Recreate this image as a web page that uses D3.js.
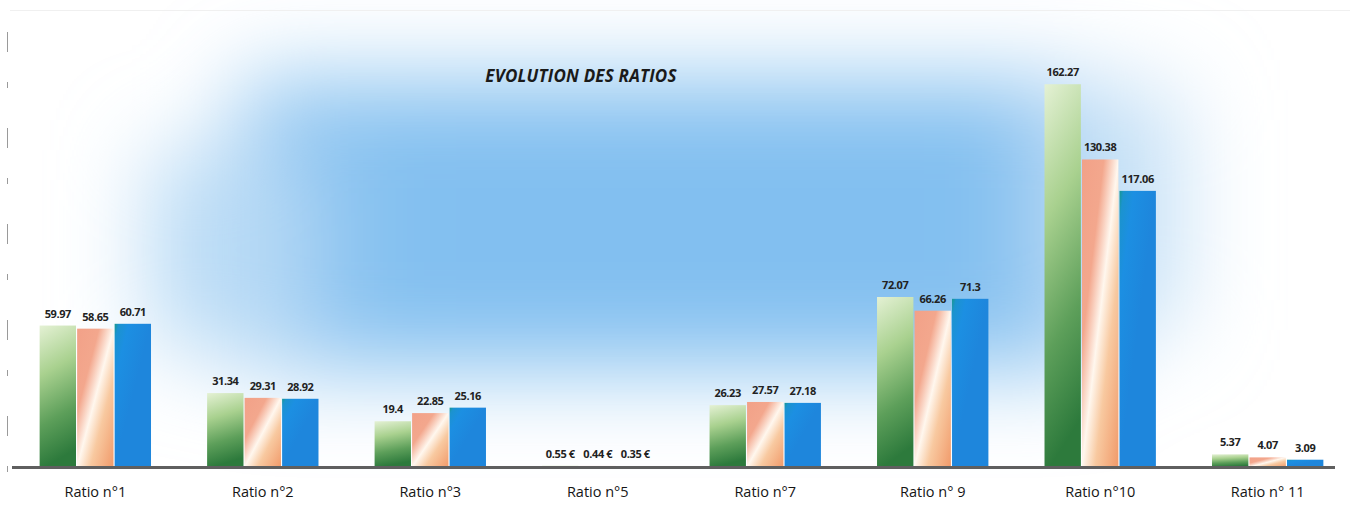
<!DOCTYPE html>
<html>
<head>
<meta charset="utf-8">
<script src="https://cdnjs.cloudflare.com/ajax/libs/d3/7.8.5/d3.min.js"></script>
<style>
  html, body { margin: 0; padding: 0; background: #fff; }
  svg { display: block; }
</style>
</head>
<body>
<svg id="chart" width="1364" height="508"></svg>
<script>
// ---- data ----
const categories = ["Ratio n°1", "Ratio n°2", "Ratio n°3", "Ratio n°5", "Ratio n°7", "Ratio n° 9", "Ratio n°10", "Ratio n° 11"];
const seriesNames = ["Série 1", "Série 2", "Série 3"];
const series1 = [59.97, 31.34, 19.4, 0.55, 26.23, 72.07, 162.27, 5.37];
const series2 = [58.65, 29.31, 22.85, 0.44, 27.57, 66.26, 130.38, 4.07];
const series3 = [60.71, 28.92, 25.16, 0.35, 27.18, 71.3, 117.06, 3.09];
const unitSuffix = ["", "", "", " €", "", "", "", ""];
const title = "EVOLUTION DES RATIOS";

const W = 1364, H = 508;
const baseY = 467;
const svg = d3.select("#chart");
const defs = svg.append("defs");

// background blur
const blur = defs.append("filter").attr("id", "bgblur")
  .attr("x", "-50%").attr("y", "-50%").attr("width", "200%").attr("height", "200%");
blur.append("feGaussianBlur").attr("stdDeviation", 45);

const bg = svg.append("g").attr("filter", "url(#bgblur)");
bg.append("rect").attr("x", 240).attr("y", 80).attr("width", 860).attr("height", 290).attr("fill", "#88c2f0");
bg.append("rect").attr("x", 400).attr("y", 120).attr("width", 580).attr("height", 210).attr("fill", "#82bff0");
bg.append("rect").attr("x", 150).attr("y", 150).attr("width", 160).attr("height", 200).attr("fill", "#b8daf5");
bg.append("rect").attr("x", 1050).attr("y", 90).attr("width", 130).attr("height", 240).attr("fill", "#c4e0f6");

// scanner artefacts: left edge line
svg.append("line").attr("x1", 7.5).attr("x2", 7.5).attr("y1", 32).attr("y2", 490)
  .attr("stroke", "#9a9a9a").attr("stroke-width", 1).attr("stroke-dasharray", "20 30 6 40");
svg.append("line").attr("x1", 10).attr("x2", 1350).attr("y1", 10.5).attr("y2", 10.5)
  .attr("stroke", "#f0f0f0").attr("stroke-width", 1);

// gradients
function lg(id, x1, y1, x2, y2, stops) {
  const g = defs.append("linearGradient").attr("id", id)
    .attr("x1", x1).attr("y1", y1).attr("x2", x2).attr("y2", y2);
  stops.forEach(s => g.append("stop").attr("offset", s[0]).attr("stop-color", s[1]));
}
lg("gGreen", 0, 0, 0.15, 1, [[0, "#e4f1d4"], [0.35, "#a9d18f"], [0.7, "#5d9f5a"], [1, "#2d7a3c"]]);
lg("gOrange", 0, 0, 1, 1, [[0, "#f2a188"], [0.3, "#f3a78d"], [0.5, "#fff7ee"], [0.68, "#f8c9a0"], [1, "#f19a6a"]]);
lg("gBlue", 0, 0, 0.5, 0.5, [[0, "#17988f"], [0.12, "#1b93cf"], [0.4, "#1c8fe2"], [1, "#1e86dc"]]);
const fills = ["url(#gGreen)", "url(#gOrange)", "url(#gBlue)"];

// scales
const x0 = d3.scaleBand().domain(categories).range([12, 1351]).paddingInner(0.335).paddingOuter(0.165);
const x1 = d3.scaleBand().domain(seriesNames).range([0, x0.bandwidth()]).paddingInner(0.03);
const y = d3.scaleLinear().domain([0, 170]).range([baseY, baseY - 401]);

const allSeries = [series1, series2, series3];
const rows = categories.map((c, i) => ({
  cat: c,
  items: seriesNames.map((s, k) => ({ s, k, v: allSeries[k][i], suffix: unitSuffix[i] }))
}));

const groups = svg.append("g").selectAll("g").data(rows).join("g")
  .attr("transform", d => `translate(${x0(d.cat)},0)`);

groups.selectAll("rect").data(d => d.items).join("rect")
  .attr("x", d => x1(d.s))
  .attr("y", d => y(d.v))
  .attr("width", x1.bandwidth())
  .attr("height", d => baseY - y(d.v))
  .attr("fill", d => fills[d.k]);

groups.selectAll("text").data(d => d.items).join("text")
  .attr("x", d => x1(d.s) + x1.bandwidth() / 2)
  .attr("y", d => y(d.v) - 8)
  .attr("text-anchor", "middle")
  .attr("font-family", "'Open Sans', 'Noto Sans', sans-serif")
  .attr("font-weight", "bold")
  .attr("font-size", 11)
  .attr("letter-spacing", "-0.4")
  .attr("fill", "#222")
  .text(d => String(d.v) + d.suffix);

// baseline (x axis line)
svg.append("line")
  .attr("x1", x0.range()[0]).attr("x2", x0.range()[1] - 16)
  .attr("y1", baseY + 0.5).attr("y2", baseY + 0.5)
  .attr("stroke", "#5f5f5f").attr("stroke-width", 3);

// category axis
const xAxis = d3.axisBottom(x0).tickSize(0).tickPadding(20);
const ax = svg.append("g").attr("transform", `translate(0,${baseY})`).call(xAxis);
ax.select(".domain").remove();
ax.selectAll("text")
  .attr("font-family", "'Open Sans', 'Noto Sans', sans-serif")
  .attr("font-size", 14.5)
  .attr("fill", "#151515");

// title
svg.append("text")
  .attr("x", 581).attr("y", 82)
  .attr("text-anchor", "middle")
  .attr("font-family", "'Open Sans', 'Noto Sans', sans-serif")
  .attr("font-weight", "bold")
  .attr("font-style", "italic")
  .attr("font-size", 17)
  .attr("letter-spacing", "0.2")
  .attr("fill", "#1a1a1a")
  .text(title);
</script>
</body>
</html>
